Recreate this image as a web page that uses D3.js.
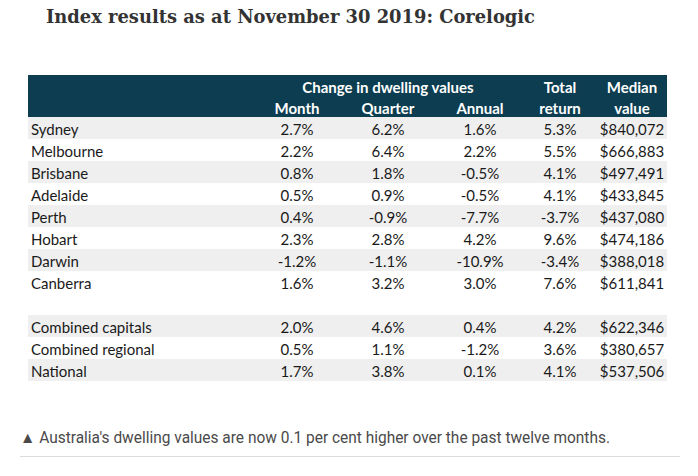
<!DOCTYPE html>
<html><head><meta charset="utf-8">
<script src="https://cdn.jsdelivr.net/npm/d3@7"></script>
<style>
html,body{margin:0;padding:0;background:#fff;}
svg{display:block;}
</style></head>
<body>
<svg id="chart" width="698" height="476"></svg>
<script>
const title = "Index results as at November 30 2019: Corelogic";
const footnote = "\u25B2 Australia's dwelling values are now 0.1 per cent higher over the past twelve months.";
const groupHeader = "Change in dwelling values";
const columns = ["Month", "Quarter", "Annual", "Total return", "Median value"];
const regions = ["Sydney", "Melbourne", "Brisbane", "Adelaide", "Perth", "Hobart", "Darwin", "Canberra"];
const month   = [2.7, 2.2, 0.8, 0.5, 0.4, 2.3, -1.2, 1.6];
const quarter = [6.2, 6.4, 1.8, 0.9, -0.9, 2.8, -1.1, 3.2];
const annual  = [1.6, 2.2, -0.5, -0.5, -7.7, 4.2, -10.9, 3.0];
const totalReturn = [5.3, 5.5, 4.1, 4.1, -3.7, 9.6, -3.4, 7.6];
const median  = [840072, 666883, 497491, 433845, 437080, 474186, 388018, 611841];
const aggregates = ["Combined capitals", "Combined regional", "National"];
const aggMonth   = [2.0, 0.5, 1.7];
const aggQuarter = [4.6, 1.1, 3.8];
const aggAnnual  = [0.4, -1.2, 0.1];
const aggTotal   = [4.2, 3.6, 4.1];
const aggMedian  = [622346, 380657, 537506];

const svg = d3.select("#chart");
const pct = d => (d3.format(".1f")(d) + "%").replace("\u2212", "-");
const money = d => "$" + d3.format(",")(d);

const rows = [];
regions.forEach((r,i)=>rows.push({label:r, vals:[month[i],quarter[i],annual[i],totalReturn[i],median[i]], shade:i%2===0}));
rows.push({label:"", vals:null, shade:false});
aggregates.forEach((r,i)=>rows.push({label:r, vals:[aggMonth[i],aggQuarter[i],aggAnnual[i],aggTotal[i],aggMedian[i]], shade:i%2===0}));

const x0 = 28, x1 = 667;
const headTop = 75, headBot = 117;
const y = d3.scaleBand().domain(d3.range(rows.length)).range([headBot, headBot + 22*rows.length]);
const colX = d3.scaleOrdinal().domain(columns).range([297, 388, 480, 560, 632]);
const FONT = "Lato, 'Open Sans', sans-serif";

svg.append("text").attr("x",46).attr("y",23)
  .attr("font-family","'DejaVu Serif', serif").attr("font-weight","bold").attr("font-size",18)
  .attr("fill","#333").attr("textLength",489).attr("lengthAdjust","spacingAndGlyphs").text(title);

svg.append("rect").attr("x",x0).attr("y",headTop).attr("width",x1-x0).attr("height",headBot-headTop).attr("fill","#0c3d50");

function headText(x, yy, t){
  svg.append("text").attr("x",x).attr("y",yy).attr("text-anchor","middle")
    .attr("font-family",FONT).attr("font-weight","bold").attr("font-size",15).attr("fill","#fff").text(t);
}
headText(colX("Quarter"), 93, groupHeader);
["Month","Quarter","Annual"].forEach(c=>headText(colX(c), 114, c));
["Total return","Median value"].forEach(c=>{
  c.split(" ").forEach((p,k)=>headText(colX(c), 93+21*k, p));
});

const rg = svg.append("g").selectAll("g.row").data(rows).join("g").attr("class","row")
  .attr("transform",(d,i)=>`translate(0,${y(i)})`);
rg.filter(d=>d.shade).append("rect").attr("x",x0).attr("y",0).attr("width",x1-x0).attr("height",y.bandwidth()).attr("fill","#efefef");
rg.append("text").attr("x",31).attr("y",17.5).attr("font-family",FONT).attr("font-size",15).attr("fill","#1a1a1a").text(d=>d.label);
rg.each(function(d){
  if(!d.vals) return;
  const s = d3.select(this);
  columns.forEach((c,k)=>{
    s.append("text").attr("x",colX(c)).attr("y",17.5).attr("text-anchor","middle")
     .attr("font-family",FONT).attr("font-size",15).attr("fill","#1a1a1a")
     .text(k===4?money(d.vals[k]):pct(d.vals[k]));
  });
});

svg.append("text").attr("x",20).attr("y",443)
  .attr("font-family","'Liberation Sans Narrow', 'Roboto', sans-serif").attr("font-size",16)
  .attr("fill","#4a4a4a").attr("textLength",590).attr("lengthAdjust","spacingAndGlyphs").text(footnote);
svg.append("line").attr("x1",20).attr("x2",680).attr("y1",456.5).attr("y2",456.5).attr("stroke","#dcdcdc").attr("stroke-width",1);
</script>
</body></html>
